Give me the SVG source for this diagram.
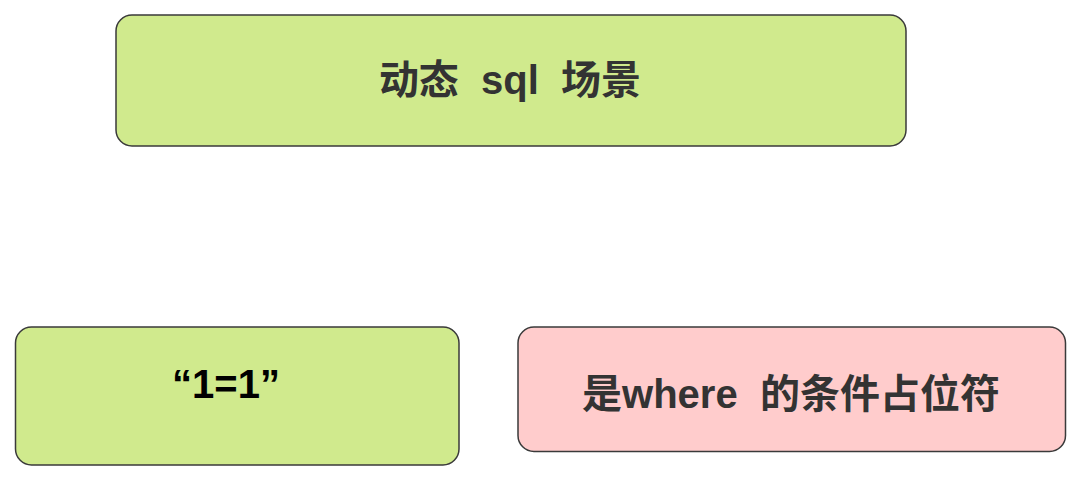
<svg xmlns="http://www.w3.org/2000/svg" width="1080" height="480" viewBox="0 0 1080 480">
<style>
.box{stroke:#3a3a3a;stroke-width:1.5}
.g{fill:#d0ea8d}
.p{fill:#ffcccc}
.t{font-family:"Liberation Sans","Noto Sans CJK SC",sans-serif;font-weight:bold;fill:#333333;text-anchor:middle;font-size:40px}
.k{fill:#000000}
</style>
<rect width="1080" height="480" fill="#ffffff"/>
<g id="connectors"></g>
<g id="node-top">
<rect class="box g" x="116" y="15" width="790" height="131" rx="16"/>
<text class="t" x="510" y="94" xml:space="preserve">动态  sql  场景</text>
</g>
<g id="node-left">
<rect class="box g" x="15.5" y="327" width="443.5" height="138" rx="16"/>
<text class="t k" x="226" y="398">“1=1”</text>
</g>
<g id="node-right">
<rect class="box p" x="518" y="327" width="547.5" height="124.5" rx="16"/>
<text class="t" x="791" y="408" xml:space="preserve">是where  的条件占位符</text>
</g>
</svg>
